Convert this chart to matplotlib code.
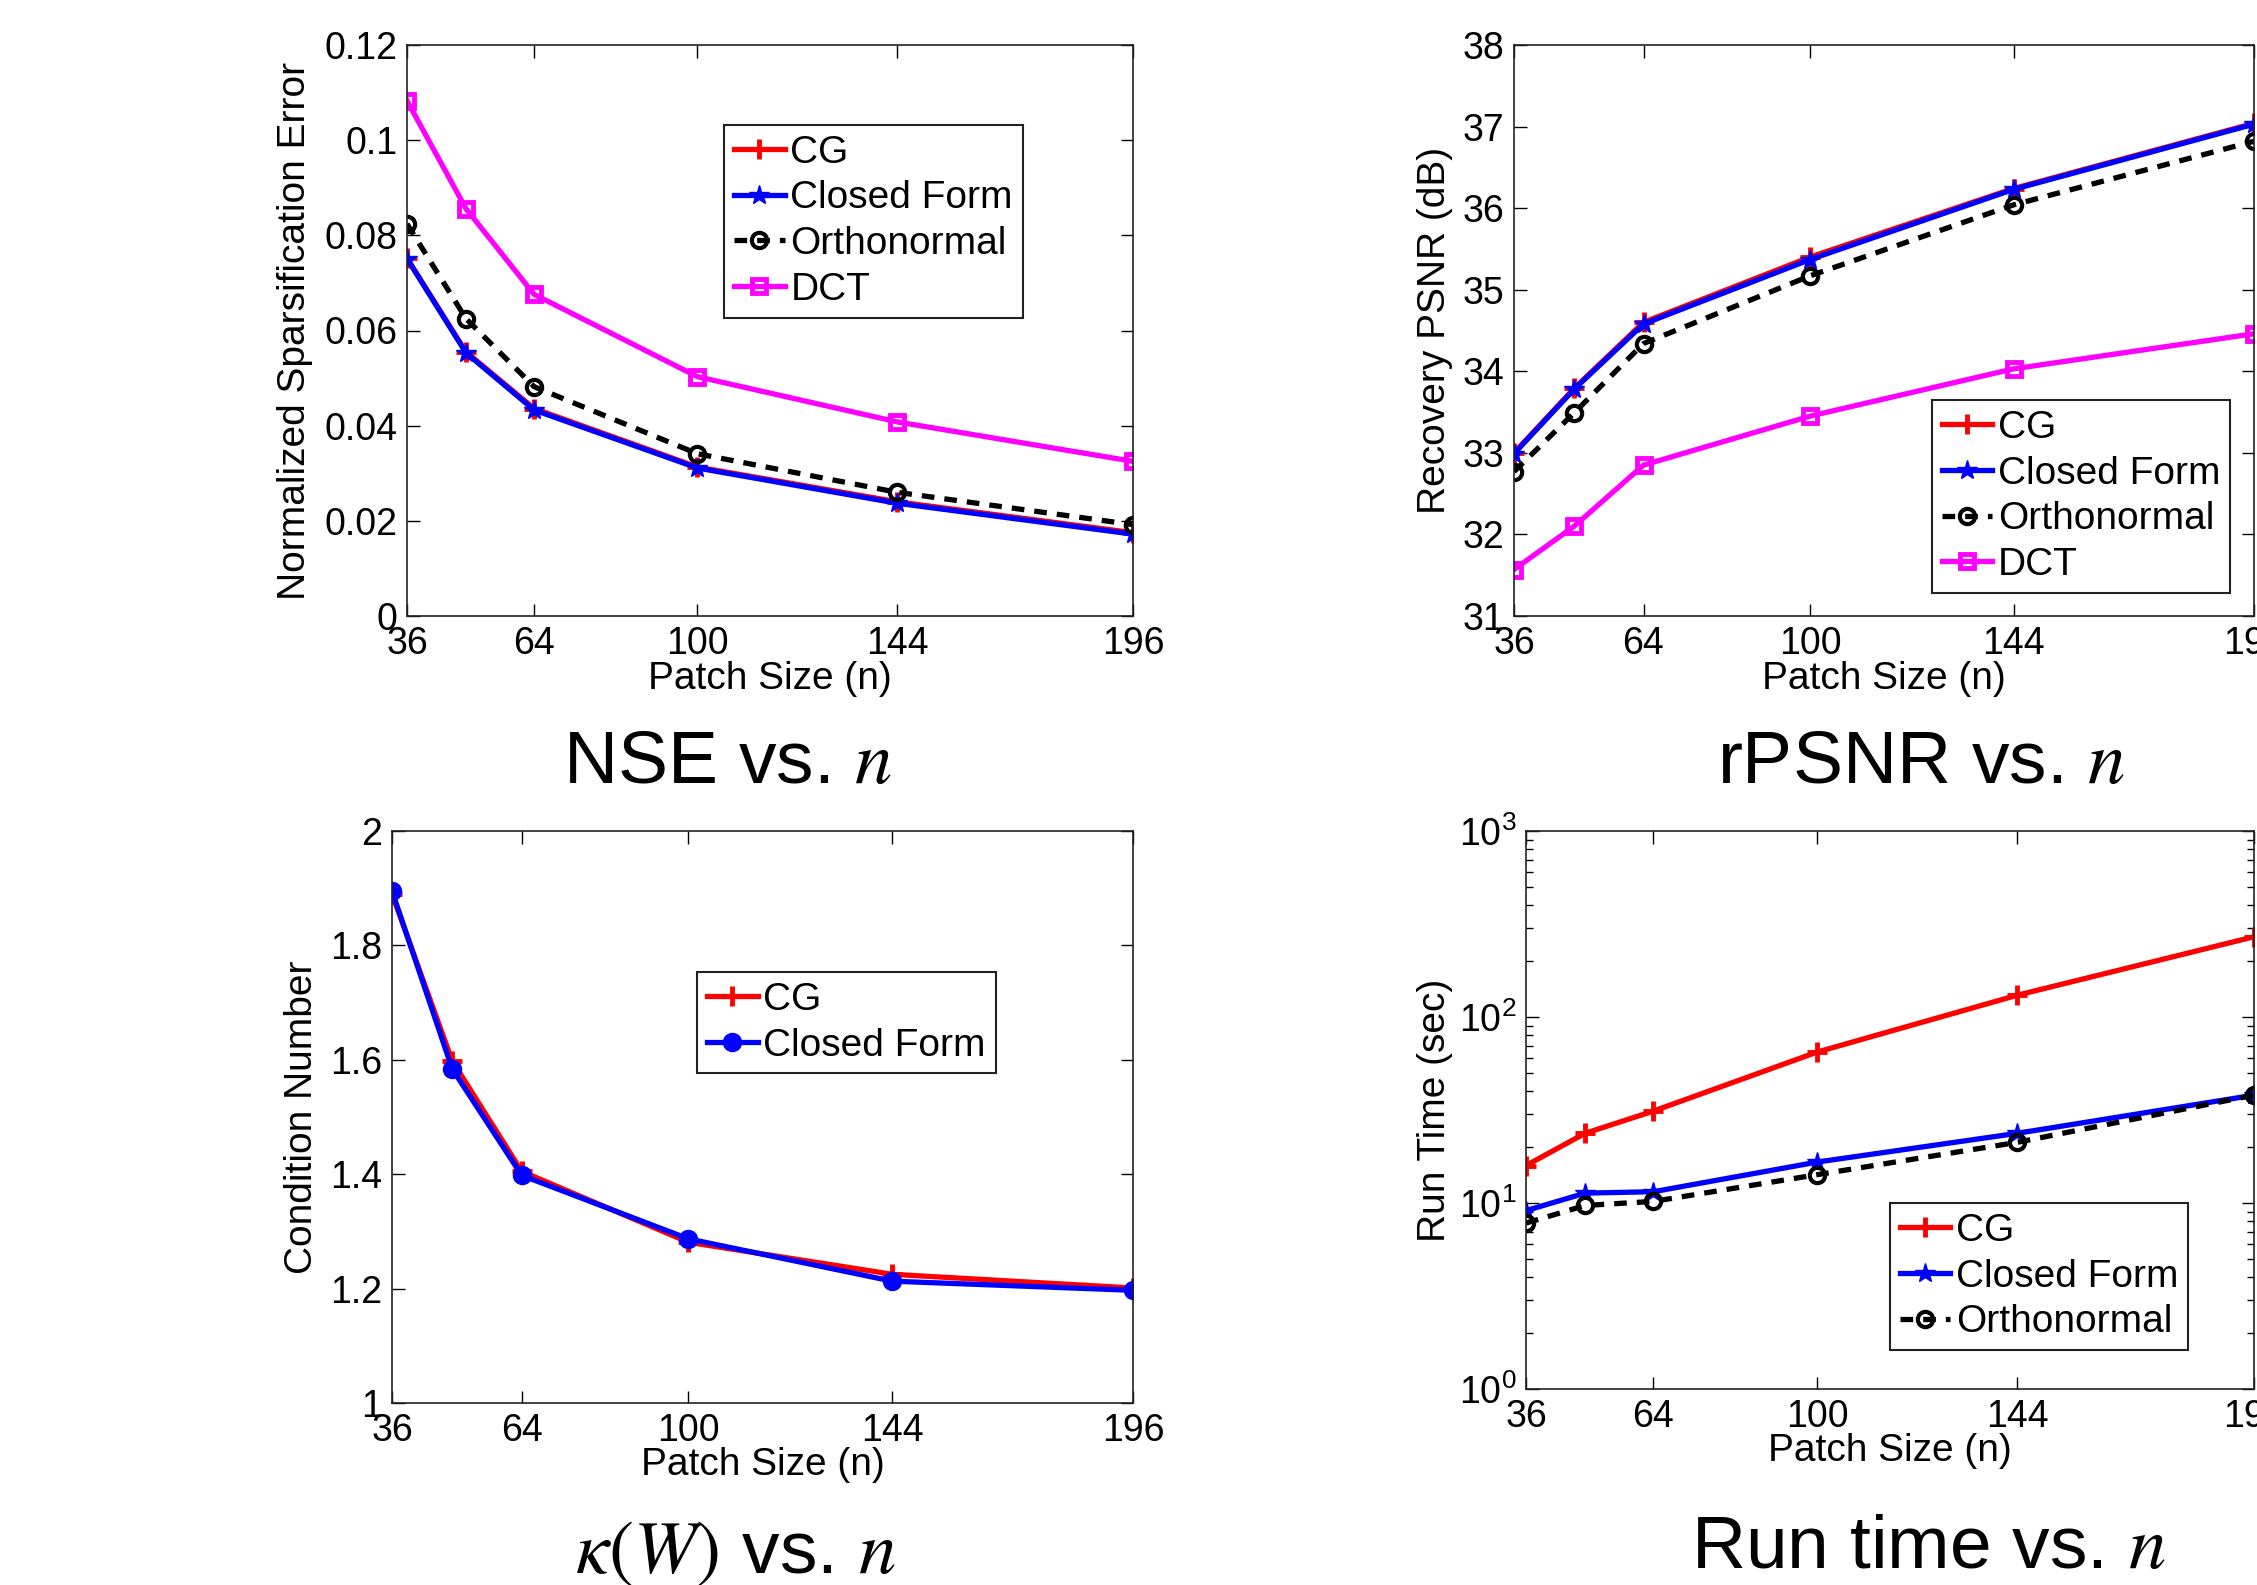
import numpy as np
import matplotlib
matplotlib.use("Agg")
import matplotlib.pyplot as plt
from matplotlib.ticker import FuncFormatter, LogLocator, NullFormatter

plt.rcParams['font.family'] = ['Liberation Sans', 'DejaVu Sans']
plt.rcParams['mathtext.fontset'] = 'stix'

# patch sizes
n = [36, 49, 64, 100, 144, 196]
xticks = [36, 64, 100, 144, 196]

# normalized sparsification error
nse_cg = [0.0752, 0.0555, 0.0436, 0.0313, 0.0240, 0.0175]
nse_cf = [0.0751, 0.0553, 0.0433, 0.0311, 0.0237, 0.0172]
nse_orth = [0.0824, 0.0625, 0.0482, 0.0341, 0.0260, 0.0192]
nse_dct = [0.1083, 0.0856, 0.0676, 0.0503, 0.0408, 0.0325]

# recovery PSNR (dB)
psnr_cg = [33.00, 33.79, 34.60, 35.40, 36.24, 37.04]
psnr_cf = [32.99, 33.78, 34.58, 35.37, 36.23, 37.03]
psnr_orth = [32.77, 33.49, 34.34, 35.17, 36.04, 36.82]
psnr_dct = [31.57, 32.10, 32.85, 33.45, 34.03, 34.46]

# condition number
cond_cg = [1.890, 1.598, 1.405, 1.281, 1.225, 1.201]
cond_cf = [1.895, 1.584, 1.398, 1.287, 1.213, 1.197]

# run time (sec)
time_cg = [15.9, 23.7, 31.2, 64.8, 131.0, 270.0]
time_cf = [9.1, 11.3, 11.5, 16.6, 23.7, 38.0]
time_orth = [7.8, 9.7, 10.2, 14.2, 21.2, 38.0]

W, H = 2257, 1585
fig = plt.figure(figsize=(W / 100, H / 100), dpi=100)


def rect(l, r, t, b):
    return [l / W, 1 - b / H, (r - l) / W, (b - t) / H]


TICK = 27
LAB = 28
LEG = 28
LW = 3.8
DASH = (0, (2.4, 1.9))


def style(ax, ylab, ylx, xly):
    ax.tick_params(direction='in', top=True, right=True, length=9, width=1,
                   labelsize=TICK, pad=7)
    ax.tick_params(which='minor', direction='in', top=True, right=True, length=5, width=1)
    for s in ax.spines.values():
        s.set_linewidth(1.2)
        s.set_color('#222222')
    ax.set_xlim(36, 196)
    ax.set_xticks(xticks)
    ax.set_xlabel("Patch Size (n)", fontsize=LAB, va='center')
    ax.xaxis.set_label_coords(0.5, xly)
    ax.set_ylabel(ylab, fontsize=LAB, va='center')
    ax.yaxis.set_label_coords(ylx, 0.5)


def leg(ax, x, y):
    lg = ax.legend(loc='upper left', bbox_to_anchor=(x, y), fontsize=LEG,
                   frameon=True, fancybox=False, edgecolor='#222222', framealpha=1,
                   handlelength=1.3, handletextpad=0.15, borderpad=0.25,
                   labelspacing=0.25, borderaxespad=0)
    lg.get_frame().set_linewidth(1.5)


def cg(ax, y):
    ax.plot(n, y, color='red', lw=LW, marker='+', ms=14, mew=3.5, label='CG')


def cf(ax, y, mk='*', ms=15):
    ax.plot(n, y, color='blue', lw=LW, marker=mk, ms=ms, label='Closed Form')


def orth(ax, y):
    ax.plot(n, y, color='black', lw=LW, ls=DASH, marker='o', ms=11, mfc='none',
            mew=3, label='Orthonormal')


def dct(ax, y):
    ax.plot(n, y, color='magenta', lw=LW, marker='s', ms=10, mfc='none', mew=3.5,
            label='DCT')


gfmt = FuncFormatter(lambda v, p: ("%g" % round(v, 4)))

# NSE
ax = fig.add_axes(rect(407, 1133, 45, 616))
cg(ax, nse_cg)
cf(ax, nse_cf)
orth(ax, nse_orth)
dct(ax, nse_dct)
ax.set_ylim(0, 0.12)
ax.set_yticks(np.arange(0, 0.121, 0.02))
ax.yaxis.set_major_formatter(gfmt)
style(ax, "Normalized Sparsification Error", -0.154, -0.11)
leg(ax, 0.437, 0.86)

# PSNR
ax = fig.add_axes(rect(1514, 2254, 45, 616))
cg(ax, psnr_cg)
cf(ax, psnr_cf)
orth(ax, psnr_orth)
dct(ax, psnr_dct)
ax.set_ylim(31, 38)
ax.set_yticks(range(31, 39))
style(ax, "Recovery PSNR (dB)", -0.107, -0.11)
leg(ax, 0.565, 0.378)

# condition number
ax = fig.add_axes(rect(392, 1133, 831, 1403))
cg(ax, cond_cg)
cf(ax, cond_cf, mk='o', ms=13)
ax.set_ylim(1, 2)
ax.set_yticks(np.arange(1, 2.01, 0.2))
ax.yaxis.set_major_formatter(gfmt)
style(ax, "Condition Number", -0.121, -0.108)
leg(ax, 0.412, 0.753)

# run time
ax = fig.add_axes(rect(1526, 2254, 831, 1389))
cg(ax, time_cg)
cf(ax, time_cf)
orth(ax, time_orth)
ax.set_yscale('log')
ax.set_ylim(1, 1000)
ax.yaxis.set_major_locator(LogLocator(base=10, numticks=10))
ax.yaxis.set_minor_locator(LogLocator(base=10, subs=np.arange(2, 10), numticks=10))
ax.yaxis.set_minor_formatter(NullFormatter())
style(ax, "Run Time (sec)", -0.125, -0.111)
leg(ax, 0.5, 0.333)

# captions
CAP = 54
fig.text(728 / W, 1 - 783 / H, "NSE vs. $n$", fontsize=CAP, ha='center', va='baseline')
fig.text(1921 / W, 1 - 783 / H, "rPSNR vs. $n$", fontsize=CAP, ha='center',
         va='baseline')
fig.text(735 / W, 1 - 1573 / H, r"$\kappa(W)$ vs. $n$", fontsize=CAP, ha='center',
         va='baseline')
fig.text(1929 / W, 1 - 1568 / H, "Run time vs. $n$", fontsize=CAP, ha='center',
         va='baseline')

fig.savefig("out.png", dpi=100)
